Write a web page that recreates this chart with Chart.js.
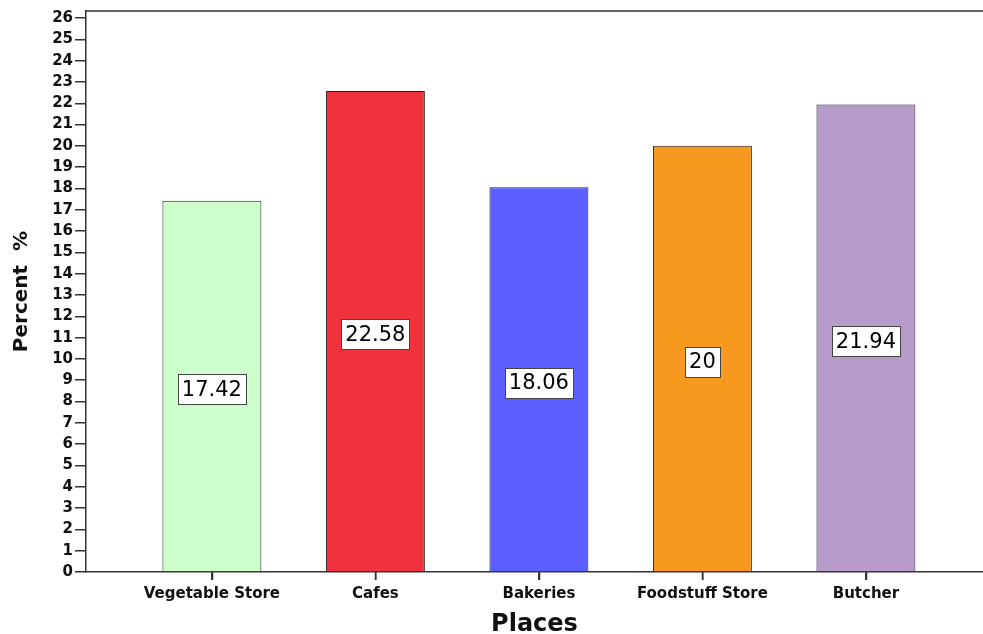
<!DOCTYPE html>
<html>
<head>
<meta charset="utf-8">
<script src="https://cdn.jsdelivr.net/npm/chart.js@4/dist/chart.umd.min.js"></script>
<style>
  body { margin: 0; background: #fff; }
  #wrap { width: 983px; height: 634px; }
</style>
</head>
<body>
<div id="wrap"><canvas id="barChart" width="983" height="634"></canvas></div>
<script>
// ------------------------
// DATA
// ------------------------
const places = ["Vegetable Store", "Cafes", "Bakeries", "Foodstuff Store", "Butcher"];
const percents = [17.42, 22.58, 18.06, 20, 21.94];
const barColors = ["#CCFFCC", "#EF323C", "#5C5FFF", "#F7991F", "#B79BC8"];
const yTicks = [0, 1, 2, 3, 4, 5, 6, 7, 8, 9, 10, 11, 12, 13, 14, 15, 16, 17, 18, 19, 20, 21, 22, 23, 24, 25, 26];

const AXIS = "#333";
const FONT = "'DejaVu Sans', Verdana, sans-serif";

// ------------------------
// PLUGINS
// ------------------------
// boxed value label in the middle of each bar
const valueBoxes = {
  id: "valueBoxes",
  afterDatasetsDraw(chart) {
    const ctx = chart.ctx;
    const yScale = chart.scales.y;
    const meta = chart.getDatasetMeta(0);
    ctx.save();
    ctx.font = "21px " + FONT;
    ctx.textAlign = "center";
    ctx.textBaseline = "middle";
    meta.data.forEach((bar, i) => {
      const v = percents[i];
      const txt = String(v);
      const cy = yScale.getPixelForValue(v / 2) + 3;
      const w = Math.round(ctx.measureText(txt).width + 8);
      const h = 30;
      const bx = Math.round(bar.x - w / 2) + 0.5;
      const by = Math.round(cy - h / 2) + 0.5;
      ctx.fillStyle = "#fff";
      ctx.fillRect(bx, by, w, h);
      ctx.strokeStyle = "#444";
      ctx.lineWidth = 1;
      ctx.strokeRect(bx, by, w, h);
      ctx.fillStyle = "#000";
      ctx.fillText(txt, bar.x, cy + 1);
    });
    ctx.restore();
  }
};

// top frame line of the plot area + category tick marks
const frame = {
  id: "frame",
  afterDraw(chart) {
    const { ctx, chartArea } = chart;
    const xScale = chart.scales.x;
    ctx.save();
    ctx.strokeStyle = AXIS;
    ctx.lineWidth = 1.5;
    ctx.beginPath();
    ctx.moveTo(chartArea.left, chartArea.top);
    ctx.lineTo(chartArea.right, chartArea.top);
    places.forEach((p, i) => {
      const x = Math.round(xScale.getPixelForValue(i + 1)) + 0.5;
      ctx.moveTo(x, chartArea.bottom);
      ctx.lineTo(x, chartArea.bottom + 8);
    });
    ctx.stroke();
    ctx.restore();
  }
};

// ------------------------
// CHART
// ------------------------
const ctx = document.getElementById("barChart").getContext("2d");

new Chart(ctx, {
  type: "bar",
  data: {
    datasets: [{
      data: percents.map((v, i) => ({ x: i + 1, y: v })),
      backgroundColor: barColors,
      borderColor: "#222",
      borderWidth: 1,
      barPercentage: 0.605,
      categoryPercentage: 1
    }]
  },
  plugins: [valueBoxes, frame],
  options: {
    responsive: false,
    animation: false,
    layout: { padding: { top: 10, right: 0, left: 0, bottom: 0 } },
    plugins: {
      legend: { display: false },
      tooltip: { enabled: false }
    },
    scales: {
      x: {
        type: "linear",
        offset: false,
        min: 0.23,
        max: 5.716,
        afterBuildTicks: (scale) => {
          scale.ticks = places.map((p, i) => ({ value: i + 1 }));
        },
        afterFit: (scale) => { scale.height = 62; },
        grid: {
          offset: false,
          drawOnChartArea: false,
          drawTicks: true,
          tickLength: 8,
          color: AXIS,
          lineWidth: 1.5
        },
        border: { color: AXIS, width: 1.5 },
        ticks: {
          autoSkip: false,
          maxRotation: 0,
          padding: 5,
          color: "#111",
          font: { family: FONT, size: 15, weight: "bold" },
          callback: (v) => places[v - 1] || ""
        },
        title: {
          display: true,
          text: "Places",
          color: "#111",
          padding: { top: 0, bottom: -5 },
          font: { family: FONT, size: 24, weight: "bold" }
        }
      },
      y: {
        min: 0,
        max: 26.33,
        afterBuildTicks: (scale) => {
          scale.ticks = yTicks.map(v => ({ value: v }));
        },
        afterFit: (scale) => { scale.width = 86; },
        grid: {
          drawOnChartArea: false,
          drawTicks: true,
          tickLength: 11,
          color: AXIS,
          lineWidth: 1.5
        },
        border: { color: AXIS, width: 1.5 },
        ticks: {
          autoSkip: false,
          padding: 2,
          color: "#111",
          font: { family: FONT, size: 15, weight: "bold" }
        },
        title: {
          display: true,
          text: "Percent  %",
          color: "#111",
          padding: { top: 10, bottom: 0 },
          font: { family: FONT, size: 20, weight: "bold" }
        }
      }
    }
  }
});
</script>
</body>
</html>
